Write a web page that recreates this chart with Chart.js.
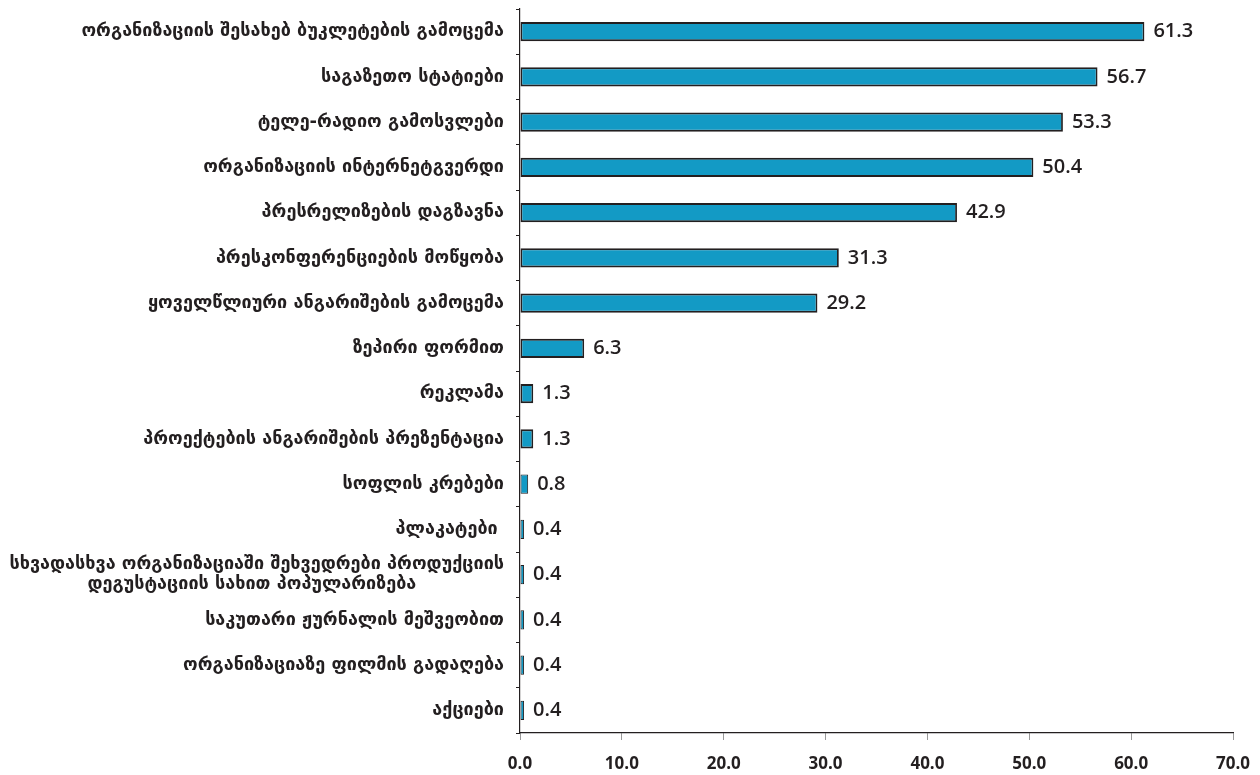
<!DOCTYPE html>
<html>
<head>
<meta charset="utf-8">
<script src="https://cdn.jsdelivr.net/npm/chart.js@4"></script>
<style>
  html,body{margin:0;padding:0;background:#fff;}
  #wrap{width:1260px;height:775px;position:relative;}
</style>
</head>
<body>
<div id="wrap"><canvas id="c"></canvas></div>
<script>
// カテゴリ（上から順）
const cats=[
  'ორგანიზაციის შესახებ ბუკლეტების გამოცემა',
  'საგაზეთო სტატიები',
  'ტელე-რადიო გამოსვლები',
  'ორგანიზაციის ინტერნეტგვერდი',
  'პრესრელიზების დაგზავნა',
  'პრესკონფერენციების მოწყობა',
  'ყოველწლიური ანგარიშების გამოცემა',
  'ზეპირი ფორმით',
  'რეკლამა',
  'პროექტების ანგარიშების პრეზენტაცია',
  'სოფლის კრებები',
  'პლაკატები ',
  ['სხვადასხვა ორგანიზაციაში შეხვედრები პროდუქციის','დეგუსტაციის სახით პოპულარიზება              '],
  'საკუთარი ჟურნალის მეშვეობით',
  'ორგანიზაციაზე ფილმის გადაღება',
  'აქციები'
];
const vals=[61.3,56.7,53.3,50.4,42.9,31.3,29.2,6.3,1.3,1.3,0.8,0.4,0.4,0.4,0.4,0.4];
const xTicks=[0,10,20,30,40,50,60,70];

// 値ラベル
const valLbl={
  id:'valLbl',
  afterDatasetsDraw(ch){
    const ctx=ch.ctx;
    ctx.save();
    ctx.font='600 20px "Open Sans"';
    ctx.fillStyle='#231f20';
    ctx.textBaseline='middle';
    ctx.textAlign='left';
    ch.getDatasetMeta(0).data.forEach((b,i)=>{
      ctx.fillText(vals[i].toFixed(1),b.x+9,b.y);
    });
    ctx.restore();
  }
};

new Chart(document.getElementById('c'),{
  type:'bar',
  data:{labels:cats,datasets:[{data:vals,backgroundColor:'#139ac5',borderColor:'#231f20',
    borderWidth:c=>(vals[c.dataIndex]<1?1:1.8),borderSkipped:false,barPercentage:0.42,categoryPercentage:1}]},
  options:{
    indexAxis:'y',responsive:true,maintainAspectRatio:false,animation:false,
    layout:{padding:{top:9,left:0,right:27,bottom:0}},
    plugins:{legend:{display:false},tooltip:{enabled:false}},
    scales:{
      x:{min:0,max:70,
        afterBuildTicks:s=>{s.ticks=xTicks.map(v=>({value:v}));},
        afterFit:s=>{s.height=42;s.paddingLeft=0;s.paddingRight=0;},
        border:{color:'#231f20',width:1.2},
        grid:{drawOnChartArea:false,color:'#999',tickLength:7},
        ticks:{padding:14,color:'#231f20',font:{family:'Open Sans',size:17,weight:700},
          callback:v=>v.toFixed(1)}},
      y:{
        afterFit:s=>{s.width=520;s.paddingTop=0;s.paddingBottom=0;},
        border:{color:'#231f20',width:1.2},
        grid:{drawOnChartArea:false,color:'#231f20',tickLength:4,offset:true},
        ticks:{padding:12,color:'#231f20',autoSkip:false,
          font:{family:'DejaVu Sans',size:18,weight:'bold',lineHeight:1.12}}}
    }
  },
  plugins:[valLbl]
});
</script>
</body>
</html>
